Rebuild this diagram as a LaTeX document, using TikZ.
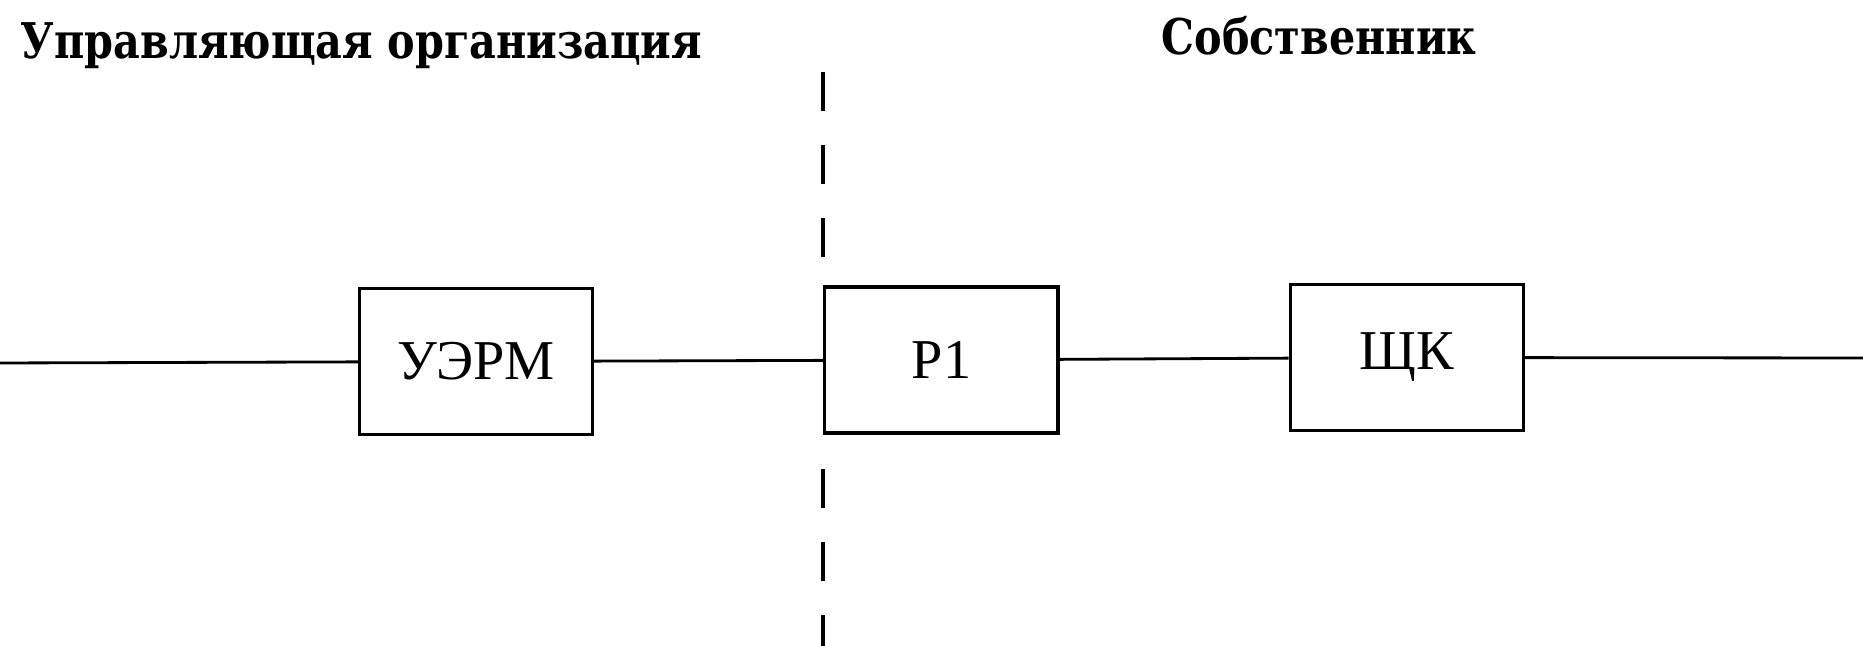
\documentclass[tikz,border=0pt]{standalone}
\usepackage{fontspec}
\setmainfont{Liberation Serif}
\newfontfamily\headfont[FakeStretch=0.84]{DejaVu Serif}
\usetikzlibrary{positioning}
\tikzstyle{block} = [rectangle, minimum width=2.33cm, minimum height=1.46cm, inner sep=0pt, text centered, draw=black, line width=0.9pt, fill=white, font=\fontsize{16}{19}\selectfont]
\tikzstyle{wire} = [line width=0.8pt]
\tikzstyle{divider} = [line width=1.4pt, dash pattern=on 0.39cm off 0.34cm]
\tikzstyle{heading} = [anchor=base west, inner sep=0pt, font=\headfont\bfseries\fontsize{14}{16}\selectfont]

\begin{document}
\begin{tikzpicture}[x=0.01cm, y=-0.01cm, node distance=2.29cm]
    \useasboundingbox (0,0) rectangle (1863,646);
    % Nodes
    \node (uerm) [block] at (476,361.5) {УЭРМ};
    \node (p1) [block, right=of uerm, yshift=0.015cm] {Р1};
    \node (shk) [block, right=of p1, yshift=0.025cm] {ЩК};
    \node (upr) [heading] at (20,59) {Управляющая организация};
    \node (sobst) [heading] at (1161,55) {Собственник};
    \coordinate (vhod) at (0,363);
    \coordinate (vyhod) at (1863,358);
    \coordinate (gr1) at (823,72);
    \coordinate (gr2) at (823,258);
    \coordinate (gr3) at (823,469);
    \coordinate (gr4) at (823,646);

    % Lines
    \draw [wire] (vhod) -- (uerm);
    \draw [wire] (uerm) -- (p1);
    \draw [wire] (p1) -- (shk);
    \draw [wire] (shk) -- (vyhod);
    \draw [divider] (gr1) -- (gr2);
    \draw [divider] (gr3) -- (gr4);

  \end{tikzpicture}
\end{document}
